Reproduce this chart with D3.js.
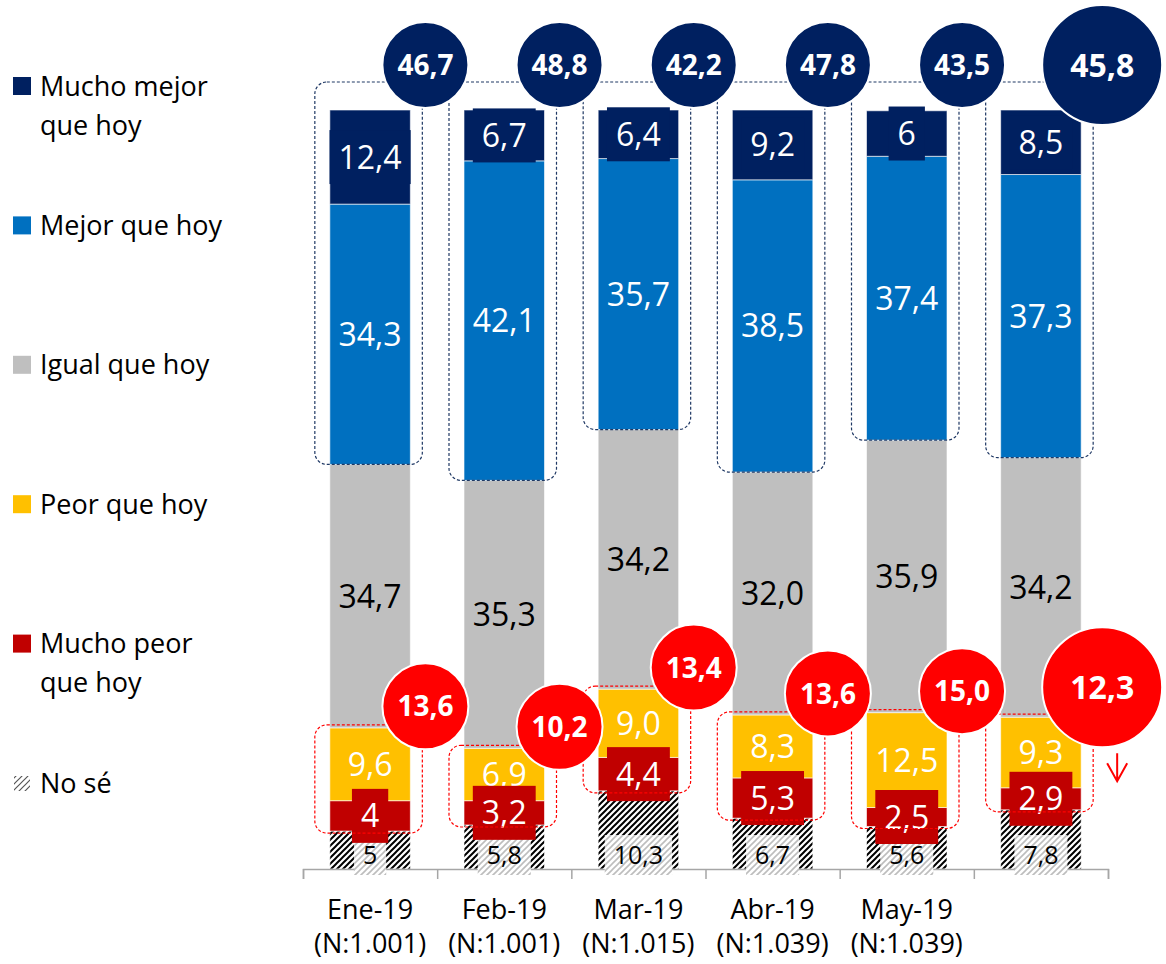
<!DOCTYPE html>
<html>
<head>
<meta charset="utf-8">
<script src="https://cdn.jsdelivr.net/npm/d3@7"></script>
<style>
  body { margin: 0; background: #fff; }
  svg { display: block; font-family: "Open Sans", sans-serif; }
</style>
</head>
<body>
<svg id="chart"></svg>
<script>
// datos
const months = ["Ene-19", "Feb-19", "Mar-19", "Abr-19", "May-19", ""];
const sampleSizes = ["(N:1.001)", "(N:1.001)", "(N:1.015)", "(N:1.039)", "(N:1.039)", ""];

const noSe       = [5, 5.8, 10.3, 6.7, 5.6, 7.8];
const muchoPeor  = [4, 3.2, 4.4, 5.3, 2.5, 2.9];
const peor       = [9.6, 6.9, 9.0, 8.3, 12.5, 9.3];
const igual      = [34.7, 35.3, 34.2, 32.0, 35.9, 34.2];
const mejor      = [34.3, 42.1, 35.7, 38.5, 37.4, 37.3];
const muchoMejor = [12.4, 6.7, 6.4, 9.2, 6, 8.5];

const totalMejor = [46.7, 48.8, 42.2, 47.8, 43.5, 45.8];
const totalPeor  = [13.6, 10.2, 13.4, 13.6, 15.0, 12.3];

const legendNames = ["Mucho mejor\nque hoy", "Mejor que hoy", "Igual que hoy", "Peor que hoy", "Mucho peor\nque hoy", "No sé"];

const width = 1166, height = 964;

// orden de apilado: de abajo hacia arriba
const series = [
  {key: "noSe",       values: noSe,       fill: "url(#hatch)", text: "#000", fixed: false},
  {key: "muchoPeor",  values: muchoPeor,  fill: "#C00000",     text: "#fff", fixed: false},
  {key: "peor",       values: peor,       fill: "#FFC000",     text: "#fff", fixed: true},
  {key: "igual",      values: igual,      fill: "#BFBFBF",     text: "#000", fixed: true},
  {key: "mejor",      values: mejor,      fill: "#0070C0",     text: "#fff", fixed: true},
  {key: "muchoMejor", values: muchoMejor, fill: "#002060",     text: "#fff", fixed: false}
];
const legendColors = ["#002060", "#0070C0", "#BFBFBF", "#FFC000", "#C00000", "url(#hatchIcon)"];

const rows = months.map((m, i) => {
  const r = {i};
  series.forEach(s => r[s.key] = s.values[i]);
  return r;
});
const stacked = d3.stack().keys(series.map(s => s.key))(rows);

const fmt = (v, fixed) => (fixed ? v.toFixed(1) : String(v)).replace(".", ",");

const x = d3.scaleBand()
    .domain(d3.range(months.length))
    .range([303, 1108])
    .paddingInner(0.4)
    .paddingOuter(0.2);
const xTicks = d3.scaleLinear().domain([0, months.length]).range([303, 1108]);
const y = d3.scaleLinear().domain([0, 100]).range([869, 110]);
const bw = x.bandwidth();

const svg = d3.select("#chart").attr("width", width).attr("height", height);

// patrones de trama
const defs = svg.append("defs");
const addHatch = (id, color, w) => defs.append("pattern")
    .attr("id", id).attr("patternUnits", "userSpaceOnUse")
    .attr("width", 6).attr("height", 6)
  .append("path")
    .attr("d", "M-1,1 l2,-2 M0,6 l6,-6 M5,7 l2,-2")
    .attr("stroke", color).attr("stroke-width", w);
defs.append("pattern").attr("id", "hatch").attr("patternUnits", "userSpaceOnUse")
    .attr("width", 6).attr("height", 6)
  .call(p => p.append("rect").attr("width", 6).attr("height", 6).attr("fill", "#fff"))
  .append("path").attr("d", "M-1,1 l2,-2 M0,6 l6,-6 M5,7 l2,-2")
    .attr("stroke", "#000").attr("stroke-width", 2);
defs.append("pattern").attr("id", "hatchLight").attr("patternUnits", "userSpaceOnUse")
    .attr("width", 6).attr("height", 6)
  .call(p => p.append("rect").attr("width", 6).attr("height", 6).attr("fill", "#fff"))
  .append("path").attr("d", "M-1,1 l2,-2 M0,6 l6,-6 M5,7 l2,-2")
    .attr("stroke", "#bdbdbd").attr("stroke-width", 1.6);
addHatch("hatchIcon", "#555", 1.2);

// barras
svg.append("g")
  .selectAll("g")
  .data(stacked)
  .join("g")
    .attr("fill", (d, k) => series[k].fill)
  .selectAll("rect")
  .data(d => d)
  .join("rect")
    .attr("x", d => x(d.data.i))
    .attr("y", d => y(d[1]))
    .attr("width", bw)
    .attr("height", d => y(d[0]) - y(d[1]))
    .attr("stroke", "#fff")
    .attr("stroke-opacity", 0.6)
    .attr("stroke-width", 1);

// eje x
const gx = svg.append("g")
    .attr("transform", `translate(0,${y(0)})`)
    .call(d3.axisBottom(xTicks).tickValues(d3.range(months.length + 1)).tickSize(10).tickFormat(""));
gx.selectAll("path, line").attr("stroke", "#a6a6a6").attr("stroke-width", 1.5);

const xl = svg.append("g").attr("font-size", 27).attr("fill", "#000").attr("text-anchor", "middle");
xl.selectAll("text.m").data(months).join("text").attr("class", "m")
    .attr("x", (d, i) => x(i) + bw / 2).attr("y", 919).text(d => d);
xl.selectAll("text.n").data(sampleSizes).join("text").attr("class", "n")
    .attr("x", (d, i) => x(i) + bw / 2).attr("y", 953).text(d => d);

// etiquetas de datos (mucho peor encima de las demas)
const labelOrder = ["noSe", "peor", "igual", "mejor", "muchoMejor", "muchoPeor"];
labelOrder.forEach(key => {
  const k = series.findIndex(s => s.key === key);
  const s = series[k];
  const layer = stacked[k];
  const isNoSe = key === "noSe";
  const g = svg.append("g").attr("font-size", isNoSe ? 25 : 32);
  layer.forEach(d => {
    const cx = x(d.data.i) + bw / 2;
    const cy = isNoSe ? y(0) - 14 : (y(d[0]) + y(d[1])) / 2;
    const lg = g.append("g");
    const box = lg.append("rect");
    const t = lg.append("text")
        .attr("x", cx).attr("y", cy).attr("dy", "0.36em")
        .attr("text-anchor", "middle")
        .attr("fill", s.text)
        .text(fmt(d.data[key], s.fixed));
    if (key === "muchoPeor" || key === "muchoMejor" || isNoSe) {
      const tw = t.node().getComputedTextLength();
      const bh = isNoSe ? 40 : 54;
      box.attr("x", cx - tw / 2 - 9).attr("y", cy - bh / 2)
         .attr("width", tw + 18).attr("height", bh)
         .attr("fill", isNoSe ? "url(#hatchLight)" : s.fill);
    } else {
      box.remove();
    }
  });
});

// recuadros punteados
const topOf = (i, key) => y(stacked[series.findIndex(s => s.key === key)][i][1]);
const botOf = (i, key) => y(stacked[series.findIndex(s => s.key === key)][i][0]);

svg.append("g")
  .selectAll("rect")
  .data(d3.range(months.length))
  .join("rect")
    .attr("x", i => x(i) - 15)
    .attr("y", y(100) - 28)
    .attr("width", bw + 27)
    .attr("height", i => botOf(i, "mejor") - (y(100) - 28))
    .attr("rx", 12)
    .attr("fill", "none")
    .attr("stroke", "#1F3864")
    .attr("stroke-width", 1.2)
    .attr("stroke-dasharray", "3,2");

svg.append("g")
  .selectAll("rect")
  .data(d3.range(months.length))
  .join("rect")
    .attr("x", i => x(i) - 15)
    .attr("y", i => topOf(i, "peor") - 3)
    .attr("width", bw + 27)
    .attr("height", i => botOf(i, "muchoPeor") - topOf(i, "peor") + 5)
    .attr("rx", 12)
    .attr("fill", "none")
    .attr("stroke", "#FF0000")
    .attr("stroke-width", 1.2)
    .attr("stroke-dasharray", "3,2");

// burbujas de totales
const last = months.length - 1;
const radius = i => i === last ? 60 : 43;
const bubbleX = i => x(i) + bw + radius(i) * 0.35;

const drawBubbles = (vals, color, cyFn) => {
  const g = svg.append("g").selectAll("g").data(vals).join("g");
  g.append("circle")
    .attr("cx", (d, i) => bubbleX(i))
    .attr("cy", (d, i) => cyFn(i))
    .attr("r", (d, i) => radius(i))
    .attr("fill", color)
    .attr("stroke", "#fff")
    .attr("stroke-width", 2);
  g.append("text")
    .attr("x", (d, i) => bubbleX(i))
    .attr("y", (d, i) => cyFn(i))
    .attr("dy", "0.36em")
    .attr("text-anchor", "middle")
    .attr("fill", "#fff")
    .attr("font-weight", "bold")
    .attr("font-size", (d, i) => i === last ? 32 : 28)
    .text(d => fmt(d, true));
};
drawBubbles(totalMejor, "#002060", () => 65);
drawBubbles(totalPeor, "#FF0000", i => topOf(i, "peor") - radius(i) * 0.5);

// flecha de tendencia
const ax = x(last) + bw + 36, ay = topOf(last, "peor") + 36;
svg.append("path")
    .attr("d", `M${ax},${ay} v28 M${ax - 10},${ay + 10} L${ax},${ay + 28} L${ax + 10},${ay + 10}`)
    .attr("fill", "none")
    .attr("stroke", "#FF0000")
    .attr("stroke-width", 2);

// leyenda
const legend = svg.append("g").attr("font-size", 27).attr("fill", "#000");
const ly = d3.scalePoint().domain(d3.range(legendNames.length)).range([86, 783]);
legendNames.forEach((name, i) => {
  const cy = ly(i);
  const isIcon = i === legendNames.length - 1;
  legend.append("rect")
      .attr("x", isIcon ? 14 : 13).attr("y", isIcon ? cy - 7 : cy - 9)
      .attr("width", isIcon ? 16 : 18).attr("height", isIcon ? 15 : 18)
      .attr("fill", legendColors[i]);
  const t = legend.append("text").attr("x", 40).attr("y", cy + 9.5);
  name.split("\n").forEach((line, j) => {
    t.append("tspan").attr("x", 40).attr("dy", j === 0 ? 0 : 39).text(line);
  });
});
</script>
</body>
</html>
